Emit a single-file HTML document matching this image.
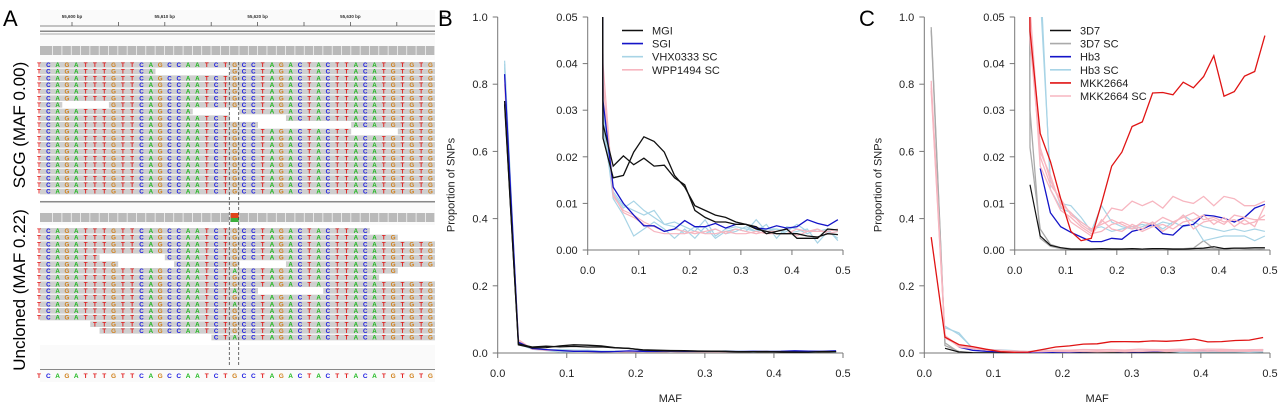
<!DOCTYPE html>
<html><head><meta charset="utf-8"><style>
html,body{margin:0;padding:0;background:#fff;}
svg{display:block;font-family:"Liberation Sans",Arial,sans-serif;}
</style></head><body>
<svg id="fig" width="1280" height="405" viewBox="0 0 1280 405" xmlns="http://www.w3.org/2000/svg">
<defs>
<clipPath id="clipBmain"><rect x="497.7" y="17" width="345.3" height="336"/></clipPath>
<clipPath id="clipBin"><rect x="587.7" y="17" width="255.3" height="233"/></clipPath>
<clipPath id="clipCmain"><rect x="924.3" y="17" width="345.7" height="336"/></clipPath>
<clipPath id="clipCin"><rect x="1014.7" y="17" width="255.3" height="233"/></clipPath>
</defs>
<g id="panelA"></g>
<g id="panelB"></g>
<g id="panelC"></g>
<text x="3" y="26" font-size="22">A</text>
<text x="438" y="26" font-size="22">B</text>
<text x="859" y="26" font-size="22">C</text>
<text transform="translate(25,125) rotate(-90)" text-anchor="middle" font-size="17">SCG (MAF 0.00)</text>
<text transform="translate(25,290) rotate(-90)" text-anchor="middle" font-size="17">Uncloned (MAF 0.22)</text>
</svg>
<script>
var NS="http://www.w3.org/2000/svg";
function mk(tag,attrs,parent,txt){var e=document.createElementNS(NS,tag);for(var k in attrs)e.setAttribute(k,attrs[k]);if(txt!==undefined)e.textContent=txt;parent.appendChild(e);return e;}

// ---------- Panel A data ----------
var refSeq="TCAGATTTGTTCAGCCAATCTGCCTAGACTACTTACATGTGTG";
var snpIndex=21;
var topRows=[[[0,42]],[[0,12],[21,42]],[[0,42]],[[0,42]],[[0,42]],[[0,42]],[[0,2],[8,42]],[[0,16],[22,42]],[[0,20],[27,42]],[[0,23],[34,42]],[[0,33],[39,42]],[[0,42]],[[0,42]],[[0,42]],[[0,42]],[[0,42]],[[0,42]],[[0,42]],[[0,42]],[[0,42]]];
var botRows=[[[0,35]],[[0,38]],[[0,42]],[[0,42]],[[0,6],[14,42]],[[0,8],[15,21],[27,42]],[[0,38]],[[0,36]],[[0,42]],[[0,23],[31,42]],[[0,42]],[[0,42]],[[0,42]],[[0,42]],[[6,42]],[[7,42]],[[19,42]]];
var altRows=[6,9,11,16];
var baseColor={A:"#1cb81c",C:"#1a1ae0",G:"#d0801a",T:"#e01a1a"};
var rulerLabels=["55,600 bp","55,610 bp","55,620 bp","55,630 bp","55"];

(function(){
  var g=document.getElementById("panelA");
  function bx(i){return 48.3+(i-1)*9.32;}
  var L=40,R=435;
  mk("rect",{x:L,y:10,width:R-L,height:372,fill:"#fafafa"},g);
  var rg=mk("g",{},g);
  
  
  mk("line",{x1:L,y1:26,x2:R,y2:26,stroke:"#666","stroke-width":0.8},rg);
  for(var t=0;t<8;t++){var x=72+t*46.4;mk("line",{x1:x,y1:22,x2:x,y2:26,stroke:"#555","stroke-width":0.8},rg);}
  for(var t=0;t<rulerLabels.length;t++){mk("text",{x:72+t*92.8,y:18,"font-size":4.5,"font-weight":"bold","text-anchor":"middle",fill:"#333"},rg,rulerLabels[t]);}
  mk("rect",{x:L,y:30.5,width:R-L,height:1.5,fill:"#888"},rg);
  mk("rect",{x:L,y:33.5,width:R-L,height:1,fill:"#aaa"},rg);
  function coverage(y,snp){
    var cg=mk("g",{},g);
    
    
    for(var i=0;i<43;i++){var x=Math.max(L,bx(i)-4.66);mk("rect",{x:x,y:y,width:8.6,height:9,fill:"#b9b9b9"},cg);}
    if(snp){mk("rect",{x:bx(snpIndex)-4,y:y,width:8,height:5,fill:"#e0441a"},cg);mk("rect",{x:bx(snpIndex)-4,y:y+5,width:8,height:4,fill:"#3cb03c"},cg);}
  }
  coverage(46,false);coverage(213,true);
  function reads(rows,y0,alt){
    var tg=mk("g",{},g);
    
    
    rows.forEach(function(segs,r){
      var y=y0+r*6.67;
      segs.forEach(function(s){
        var x1=Math.max(L,bx(s[0])-4.66),x2=Math.min(R,bx(s[1])+4.66);
        mk("rect",{x:x1,y:y,width:x2-x1,height:5.6,fill:"#cfcfcf"},tg);
        for(var i=s[0];i<=s[1];i++){
          var b=refSeq[i];if(i===snpIndex&&alt&&alt.indexOf(r)>=0)b="A";
          mk("text",{x:bx(i),y:y+5,"font-size":6.2,"font-weight":"bold","text-anchor":"middle",fill:baseColor[b]},tg,b);
        }
      });
    });
  }
  mk("rect",{x:L,y:60,width:R-L,height:140,fill:"#fff"},g);
  mk("rect",{x:L,y:225,width:R-L,height:120,fill:"#fff"},g);
  reads(topRows,62,null);
  reads(botRows,228,altRows);
  mk("rect",{x:L,y:201,width:R-L,height:1.5,fill:"#888"},g);
  mk("rect",{x:L,y:369,width:R-L,height:1,fill:"#888"},g);
  var sg=mk("g",{},g);
  
  
  for(var i=0;i<refSeq.length;i++)mk("text",{x:bx(i),y:378,"font-size":6.5,"font-weight":"bold","text-anchor":"middle",fill:baseColor[refSeq[i]]},sg,refSeq[i]);
  mk("line",{x1:229.3,y1:62,x2:229.3,y2:365,stroke:"#444","stroke-width":0.8,"stroke-dasharray":"3,2"},g);
  mk("line",{x1:238.7,y1:62,x2:238.7,y2:365,stroke:"#444","stroke-width":0.8,"stroke-dasharray":"3,2"},g);
})();

// ---------- Panel B data ----------
var mafBins=[0.01,0.03,0.05,0.07,0.09,0.11,0.13,0.15,0.17,0.19,0.21,0.23,0.25,0.27,0.29,0.31,0.33,0.35,0.37,0.39,0.41,0.43,0.45,0.47,0.49];
var mainYTicks=["0.0","0.2","0.4","0.6","0.8","1.0"];
var insetYTicks=["0.00","0.01","0.02","0.03","0.04","0.05"];
var xTicks=["0.0","0.1","0.2","0.3","0.4","0.5"];
var bMGI1=[0.75,0.024,0.0155,0.016,0.021,0.0243,0.0233,0.021,0.016,0.0135,0.0095,0.0085,0.0075,0.007,0.006,0.0055,0.005,0.0035,0.004,0.0045,0.0025,0.0025,0.0025,0.0045,0.0043];
var bMGI2=[0.74,0.027,0.018,0.0202,0.0183,0.0197,0.018,0.0182,0.0155,0.014,0.0085,0.007,0.006,0.006,0.0055,0.0055,0.0045,0.004,0.0035,0.0035,0.0035,0.003,0.0028,0.0035,0.0033];
var bSGI=[0.83,0.032,0.0135,0.01,0.0075,0.0052,0.0052,0.004,0.0045,0.0063,0.005,0.005,0.0057,0.0047,0.0055,0.0055,0.0047,0.0045,0.0052,0.0047,0.005,0.0065,0.0057,0.0052,0.0065];
var bVHX1=[0.87,0.028,0.011,0.0075,0.003,0.0045,0.006,0.0045,0.0025,0.0045,0.0025,0.005,0.0025,0.004,0.0045,0.004,0.0065,0.004,0.0045,0.0035,0.004,0.0045,0.0015,0.004,0.0025];
var bVHX2=[0.85,0.03,0.012,0.009,0.0105,0.0085,0.007,0.0055,0.006,0.005,0.004,0.0065,0.003,0.0045,0.005,0.0045,0.004,0.0055,0.0025,0.005,0.0045,0.0035,0.0045,0.0035,0.004];
var bVHX3=[0.86,0.026,0.0125,0.0095,0.0085,0.0075,0.0085,0.0055,0.005,0.0035,0.005,0.0035,0.0045,0.0035,0.004,0.005,0.004,0.0045,0.0045,0.004,0.0055,0.004,0.004,0.0045,0.002];
var bWPP1=[0.82,0.04,0.012,0.008,0.007,0.0055,0.004,0.0035,0.0035,0.0035,0.004,0.0035,0.0035,0.004,0.0035,0.0035,0.004,0.0035,0.0035,0.0035,0.0045,0.004,0.004,0.004,0.0045];
var bWPP2=[0.8,0.036,0.0115,0.0085,0.0075,0.006,0.005,0.004,0.0045,0.004,0.0035,0.004,0.0045,0.0035,0.0045,0.004,0.0035,0.004,0.004,0.0045,0.003,0.004,0.0045,0.0035,0.004];

// ---------- Panel C data ----------
var c3D7=[null,0.014,0.003,0.001,0.0005,0.0002,0.0002,0.0002,0.0003,0.0002,0.0002,0.0003,0.0002,0.0003,0.0003,0.0002,0.0002,0.0003,0.0004,0.0007,0.0003,0.0004,0.0004,0.0005,0.0005];
var c3D7sc1=[0.97,0.03,0.0025,0.0008,0.0003,0.0002,0.0002,0.0002,0.0002,0.0003,0.0002,0.0003,0.0002,0.0003,0.0002,0.0003,0.0002,0.0004,0.0002,0.0003,0.0002,0.0004,0.0003,0.0002,0.0003];
var c3D7sc2=[0.96,0.022,0.0045,0.0012,0.0005,0.0003,0.0003,0.0003,0.0003,0.0003,0.0003,0.0003,0.0002,0.0003,0.0003,0.0003,0.0003,0.0004,0.002,0.0003,0.0002,0.0004,0.0003,0.0003,0.0004];
var cHb3=[null,null,0.0175,0.008,0.005,0.0038,0.0028,0.0018,0.0018,0.0025,0.0023,0.004,0.0045,0.0055,0.0035,0.0032,0.0052,0.0055,0.0075,0.0073,0.0068,0.006,0.007,0.009,0.0098];
var cHb3sc1=[null,0.08,0.055,0.015,0.01,0.0095,0.007,0.004,0.0095,0.006,0.005,0.0045,0.005,0.006,0.0045,0.006,0.005,0.0055,0.002,0.0025,0.003,0.003,0.003,0.002,0.003];
var cHb3sc2=[null,0.075,0.06,0.013,0.009,0.008,0.006,0.0045,0.005,0.004,0.0045,0.005,0.0055,0.005,0.006,0.0055,0.0075,0.006,0.005,0.0045,0.004,0.0045,0.004,0.0045,0.004];
var cMKK=[0.345,0.047,0.025,0.019,0.011,0.004,0.002,0.0025,0.01,0.018,0.021,0.0265,0.0275,0.0337,0.0338,0.0333,0.036,0.0348,0.0372,0.0417,0.033,0.034,0.0373,0.0383,0.046];
var cMKKsc1=[0.8,0.052,0.022,0.015,0.01,0.008,0.0055,0.004,0.006,0.009,0.0085,0.0105,0.0095,0.0105,0.009,0.0115,0.0105,0.01,0.0115,0.0095,0.0115,0.011,0.0095,0.0095,0.0105];
var cMKKsc2=[0.79,0.048,0.02,0.014,0.011,0.0075,0.006,0.0045,0.0055,0.0065,0.0055,0.0045,0.006,0.0055,0.007,0.006,0.007,0.008,0.0065,0.007,0.006,0.0065,0.0055,0.006,0.0075];
var cMKKsc3=[0.81,0.05,0.018,0.013,0.0085,0.007,0.005,0.0035,0.004,0.0055,0.006,0.005,0.004,0.005,0.0055,0.0045,0.006,0.0065,0.0075,0.0055,0.007,0.005,0.0065,0.005,0.0095];
var cMKKsc4=[0.78,0.045,0.021,0.016,0.0095,0.006,0.0045,0.003,0.0065,0.0045,0.004,0.0055,0.0045,0.006,0.004,0.0055,0.0075,0.0045,0.006,0.0065,0.0055,0.0075,0.007,0.0065,0.0065];

var bSeries=[{n:"vhx-sc-1",d:bVHX1,c:"#a8d4e6",w:1.2},{n:"vhx-sc-2",d:bVHX2,c:"#a8d4e6",w:1.2},{n:"vhx-sc-3",d:bVHX3,c:"#a8d4e6",w:1.2},{n:"wpp-sc-1",d:bWPP1,c:"#f7b6c0",w:1.2},{n:"wpp-sc-2",d:bWPP2,c:"#f7b6c0",w:1.2},{n:"sgi",d:bSGI,c:"#1414c8",w:1.3},{n:"mgi-1",d:bMGI1,c:"#111",w:1.3},{n:"mgi-2",d:bMGI2,c:"#111",w:1.3}];
var bLegend=[["MGI","#111"],["SGI","#1414c8"],["VHX0333 SC","#a8d4e6"],["WPP1494 SC","#f7b6c0"]];
var cSeries=[{n:"3d7-sc-1",d:c3D7sc1,c:"#aaa",w:1.3},{n:"3d7-sc-2",d:c3D7sc2,c:"#aaa",w:1.3},{n:"3d7",d:c3D7,c:"#111",w:1.2},{n:"hb3-sc-1",d:cHb3sc1,c:"#a8d4e6",w:1.2},{n:"hb3-sc-2",d:cHb3sc2,c:"#a8d4e6",w:1.2},{n:"hb3",d:cHb3,c:"#1414c8",w:1.3},{n:"mkk-sc-1",d:cMKKsc1,c:"#f7b6c0",w:1.3},{n:"mkk-sc-2",d:cMKKsc2,c:"#f7b6c0",w:1.3},{n:"mkk-sc-3",d:cMKKsc3,c:"#f7b6c0",w:1.3},{n:"mkk-sc-4",d:cMKKsc4,c:"#f7b6c0",w:1.3},{n:"mkk2664",d:cMKK,c:"#e01414",w:1.3}];
var cLegend=[["3D7","#111"],["3D7 SC","#aaa"],["Hb3","#1414c8"],["Hb3 SC","#a8d4e6"],["MKK2664","#e01414"],["MKK2664 SC","#f7b6c0"]];

function pts(d,fx,fy){var o=[];d.forEach(function(v,i){if(v!==null&&v!==undefined)o.push(fx(mafBins[i]).toFixed(1)+","+fy(v).toFixed(1));});return o.join(" ");}

function drawPanel(gid,mx0,mx1,ix0,series,legend,lx,clipM,clipI){
  var g=document.getElementById(gid);
  var my0=353,my1=17,iy0=250,iy1=17;
  function X(v){return mx0+(v/0.5)*(mx1-mx0);}
  function Y(v){return my0-(v/1.0)*(my0-my1);}
  function IX(v){return ix0+(v/0.5)*(mx1-ix0);}
  function IY(v){return iy0-(v/0.05)*(iy0-iy1);}
  var ax_c="#777";
  var axg=mk("g",{},g);
  
  
  mk("line",{x1:mx0,y1:my1,x2:mx0,y2:my0,stroke:ax_c,"stroke-width":1},axg);
  mk("line",{x1:mx0,y1:my0,x2:mx1,y2:my0,stroke:ax_c,"stroke-width":1},axg);
  mainYTicks.forEach(function(t){var y=Y(parseFloat(t));mk("line",{x1:mx0-5,y1:y,x2:mx0,y2:y,stroke:ax_c},axg);mk("text",{x:mx0-10,y:y+4,"font-size":11,"text-anchor":"end",fill:"#222"},axg,t);});
  xTicks.forEach(function(t){var x=X(parseFloat(t));mk("line",{x1:x,y1:my0,x2:x,y2:my0+5,stroke:ax_c},axg);mk("text",{x:x,y:377,"font-size":11,"text-anchor":"middle",fill:"#222"},axg,t);});
  var xt=mk("text",{x:(mx0+mx1)/2,y:402,"font-size":11,"text-anchor":"middle",fill:"#222"},g,"MAF");
  
  
  var yt=mk("text",{transform:"translate("+(mx0-43)+",185) rotate(-90)","font-size":11,"text-anchor":"middle",fill:"#222"},g,"Proportion of SNPs");
  
  
  var mg=mk("g",{"clip-path":"url(#"+clipM+")"},g);
  series.forEach(function(s){
    var e=mk("polyline",{points:pts(s.d,X,Y),fill:"none",stroke:s.c,"stroke-width":s.w},mg);
    
    
  });
  var ig=mk("g",{},g);
  
  
  mk("line",{x1:ix0,y1:iy1,x2:ix0,y2:iy0,stroke:ax_c},ig);
  mk("line",{x1:ix0,y1:iy0,x2:mx1,y2:iy0,stroke:ax_c},ig);
  insetYTicks.forEach(function(t){var y=IY(parseFloat(t));mk("line",{x1:ix0-5,y1:y,x2:ix0,y2:y,stroke:ax_c},ig);mk("text",{x:ix0-10,y:y+4,"font-size":11,"text-anchor":"end",fill:"#222"},ig,t);});
  xTicks.forEach(function(t){var x=IX(parseFloat(t));mk("line",{x1:x,y1:iy0,x2:x,y2:iy0+5,stroke:ax_c},ig);mk("text",{x:x,y:274,"font-size":11,"text-anchor":"middle",fill:"#222"},ig,t);});
  var cg=mk("g",{"clip-path":"url(#"+clipI+")"},g);
  series.forEach(function(s){
    var e=mk("polyline",{points:pts(s.d,IX,IY),fill:"none",stroke:s.c,"stroke-width":s.w},cg);
    
    
  });
  var lg=mk("g",{},g);
  
  
  legend.forEach(function(l,i){
    var y=30.5+i*13.1;
    var en=mk("g",{},lg);
    
    
    mk("line",{x1:lx,y1:y,x2:lx+21,y2:y,stroke:l[1],"stroke-width":1.6},en);
    mk("text",{x:lx+30,y:y+4,"font-size":11,fill:"#222"},en,l[0]);
  });
}
drawPanel("panelB",497.7,843,587.7,bSeries,bLegend,622,"clipBmain","clipBin");
drawPanel("panelC",924.3,1270,1014.7,cSeries,cLegend,1050,"clipCmain","clipCin");
</script>
</body></html>
